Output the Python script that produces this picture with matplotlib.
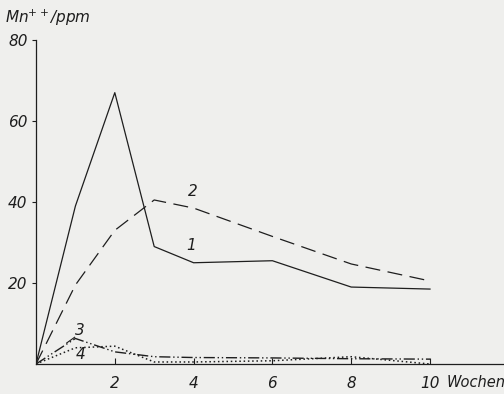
import matplotlib.pyplot as plt

weeks = [0, 1, 2, 3, 4, 6, 8, 10]
curve1 = [0, 39, 67, 29, 25, 25.5, 19, 18.5]
curve2 = [0, 19.5, 33, 40.5, 38.5, 31.5, 24.7, 20.5]
curve3 = [0, 6.3, 3, 1.8, 1.6, 1.5, 1.3, 1.2]
curve4 = [0, 4, 4.4, 0.5, 0.5, 0.8, 1.8, 0]
xticks = [2, 4, 6, 8, 10]
yticks = [20, 40, 60, 80]

paper = '#efefed'
ink = '#1e1e1e'

fig = plt.figure(figsize=(5.04, 3.94), dpi=100, facecolor=paper)
ax = fig.add_axes([36/504, 30/394, 468/504, 324/394])
ax.set_facecolor(paper)

ax.plot(weeks, curve1, color=ink, lw=0.9, ls='-')
ax.plot(weeks, curve2, color=ink, lw=0.9, ls=(0, (12, 6)))
ax.plot(weeks, curve3, color=ink, lw=1.0, ls=(0, (8, 2, 1, 2, 1, 2)))
ax.plot(weeks, curve4, color=ink, lw=1.1, ls=(0, (1, 1.8)))

ax.set_xlim(0, 468/39.4)
ax.set_ylim(0, 80)
for s in ['top', 'right']:
    ax.spines[s].set_visible(False)
ax.spines['left'].set_color(ink)
ax.spines['bottom'].set_color(ink)
ax.spines['left'].set_linewidth(0.9)
ax.spines['bottom'].set_linewidth(0.9)

ax.set_xticks(xticks)
ax.set_xticklabels([str(t) for t in xticks], fontstyle='italic', fontsize=11, color=ink)
ax.set_yticks(yticks)
ax.set_yticklabels([str(t) for t in yticks], fontstyle='italic', fontsize=11, color=ink)
ax.tick_params(axis='x', direction='in', length=4, width=0.8, pad=9, color=ink)
ax.tick_params(axis='y', direction='out', length=3, width=0.8, pad=3, color=ink)

ax.text(10.42, -4.6, 'Wochen', fontstyle='italic', fontsize=10.5, color=ink, va='center', ha='left')
fig.text(5/504, 1 - 18/394, 'Mn$^{++}$/ppm', fontstyle='italic', fontsize=11, color=ink, va='center')

# curve labels
ax.text(3.85, 41.5, '2', fontstyle='italic', fontsize=11, color=ink)
ax.text(3.82, 28.2, '1', fontstyle='italic', fontsize=11, color=ink)
ax.text(1.0, 7.2, '3', fontstyle='italic', fontsize=11, color=ink)
ax.text(1.0, 1.2, '4', fontstyle='italic', fontsize=11, color=ink)
ax.plot([0.78, 0.98], [5.2, 6.6], color=ink, lw=0.8)

fig.savefig('out.png', dpi=100, facecolor=paper)
